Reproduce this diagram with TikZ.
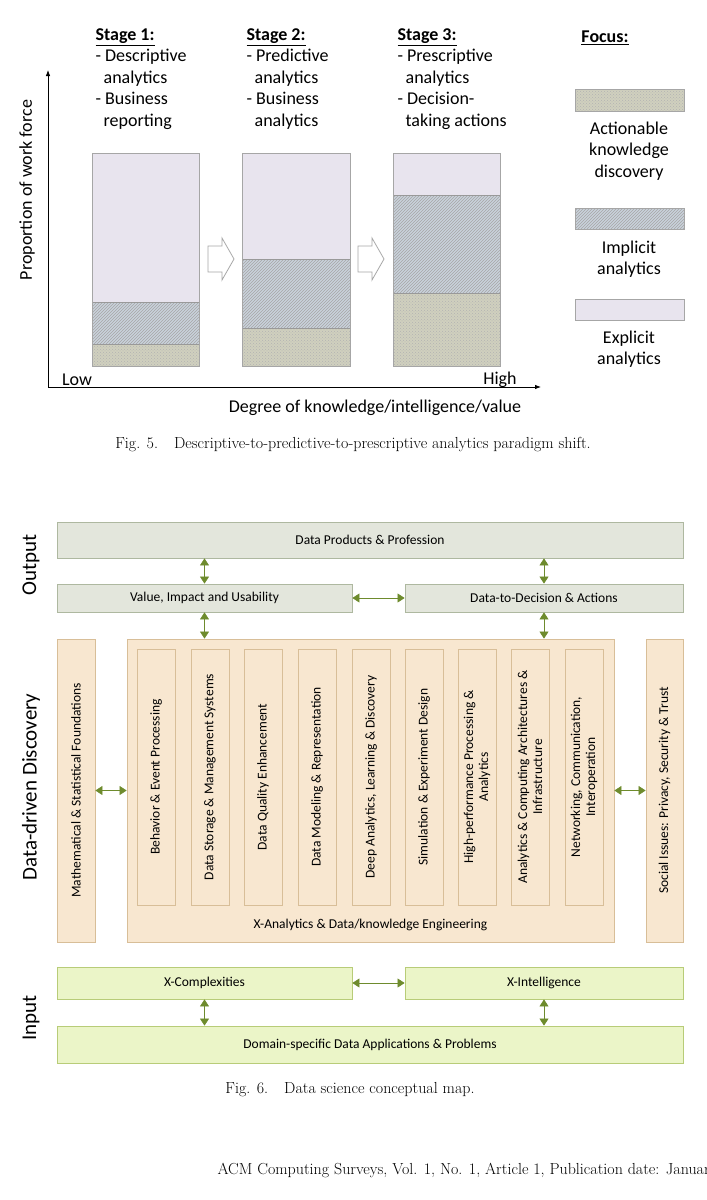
\documentclass[tikz,border=0pt]{standalone}
\usepackage{fontspec}
\newfontfamily\carl{Carlito}
\usetikzlibrary{patterns,arrows.meta}
\definecolor{expl}{HTML}{E8E4EE}
\definecolor{impl}{HTML}{C9D2DC}
\definecolor{act}{HTML}{D0D0BE}
\definecolor{obox}{HTML}{E3E6DC}
\definecolor{oline}{HTML}{AEB8A0}
\definecolor{mbox}{HTML}{F8E7D0}
\definecolor{mline}{HTML}{D8BE98}
\definecolor{ibox}{HTML}{EBF5C8}
\definecolor{iline}{HTML}{B8CC78}
\definecolor{garr}{HTML}{6E8B2D}
\begin{document}
\begin{tikzpicture}[x=1pt,y=-1pt,
  stg/.style={anchor=north west,align=left,font=\carl\fontsize{18}{21.5}\selectfont},
  leg/.style={align=center,font=\carl\fontsize{18}{21.5}\selectfont},
  bar/.style={draw=gray!70,line width=0.8pt},
  obx/.style={draw=oline,fill=obox,line width=0.8pt,font=\carl\fontsize{13.5}{15}\selectfont,inner sep=0},
  mbx/.style={draw=mline,fill=mbox,line width=0.8pt,font=\carl\fontsize{13.5}{15}\selectfont,inner sep=0},
  ibx/.style={draw=iline,fill=ibox,line width=0.8pt,font=\carl\fontsize{13.5}{15}\selectfont,inner sep=0},
  inb/.style={mbx,rotate=90,minimum width=256pt,minimum height=38pt,align=center},
  dar/.style={garr,line width=0.6pt,{Triangle[width=9pt,length=7pt]}-{Triangle[width=9pt,length=7pt]}},
  side/.style={font=\carl\fontsize{21}{24}\selectfont,rotate=90}]
\useasboundingbox (0,0) rectangle (707,1200);
% ---------- Fig 5 ----------
\node[stg] (s1) at (92,25) {\textbf{\underline{Stage 1:}}\\- Descriptive\\\ \ analytics\\- Business\\\ \ reporting};
\node[stg] (s2) at (243,25) {\textbf{\underline{Stage 2:}}\\- Predictive\\\ \ analytics\\- Business\\\ \ analytics};
\node[stg] (s3) at (394,25) {\textbf{\underline{Stage 3:}}\\- Prescriptive\\\ \ analytics\\- Decision-\\\ \ taking actions};
\node[leg,anchor=north] (foc) at (605,27) {\textbf{\underline{Focus:}}};
% axes
\coordinate (o) at (48,387);
\coordinate (ytop) at (48,70);
\coordinate (xend) at (541,387);
\draw[line width=0.8pt,-{Latex[length=6pt]}] (o) -- (ytop);
\draw[line width=0.8pt,-{Latex[length=6pt]}] (o) -- (xend);
\node[font=\carl\fontsize{18}{20}\selectfont,rotate=90] (yl) at (27,190) {Proportion of work force};
\node[font=\carl\fontsize{18}{20}\selectfont] (xl) at (375,408) {Degree of knowledge/intelligence/value};
\node[font=\carl\fontsize{18}{20}\selectfont] (lo) at (77,380) {Low};
\node[font=\carl\fontsize{18}{20}\selectfont] (hi) at (500,380) {High};
% bars
\foreach \xa/\xb/\yi/\ya in {92/199/302/344, 242/350/259/328, 393/500/195/293}{
  \fill[expl] (\xa,153) rectangle (\xb,\yi);
  \fill[impl] (\xa,\yi) rectangle (\xb,\ya);
  \fill[pattern=north east lines,pattern color=gray!70] (\xa,\yi) rectangle (\xb,\ya);
  \fill[act] (\xa,\ya) rectangle (\xb,366);
  \fill[pattern=crosshatch dots,pattern color=gray!60] (\xa,\ya) rectangle (\xb,366);
  \draw[gray!80,line width=0.8pt] (\xa,\yi) -- (\xb,\yi) (\xa,\ya) -- (\xb,\ya);
  \draw[bar] (\xa,153) rectangle (\xb,366);
}
% block arrows
\foreach \d in {0,150}{
  \draw[gray!70,line width=0.8pt,fill=white] (208+\d,246) -- (222+\d,246) -- (222+\d,238) -- (234+\d,259) -- (222+\d,280) -- (222+\d,272) -- (208+\d,272) -- cycle;
}
% legend
\fill[act] (575,89) rectangle (684,111);
\fill[pattern=crosshatch dots,pattern color=gray!60] (575,89) rectangle (684,111);
\draw[bar] (575,89) rectangle (684,111);
\fill[impl] (575,208) rectangle (684,229);
\fill[pattern=north east lines,pattern color=gray!70] (575,208) rectangle (684,229);
\draw[bar] (575,208) rectangle (684,229);
\draw[bar,fill=expl] (575,299) rectangle (684,320);
\node[leg] (l1) at (629,151) {Actionable\\knowledge\\discovery};
\node[leg] (l2) at (629,259) {Implicit\\analytics};
\node[leg] (l3) at (629,349) {Explicit\\analytics};
\node[font=\fontsize{16}{18}\selectfont] (c5) at (353,445) {Fig. 5.\quad Descriptive-to-predictive-to-prescriptive analytics paradigm shift.};
% ---------- Fig 6 ----------
\node[obx,minimum width=626pt,minimum height=36pt] (dp) at (370,540) {Data Products \& Profession};
\node[obx,minimum width=295pt,minimum height=28pt] (val) at (204.5,598) {Value, Impact and Usability};
\node[obx,minimum width=278pt,minimum height=28pt] (dd) at (544,598) {Data-to-Decision \& Actions};
\node[mbx,minimum width=303pt,minimum height=38pt,rotate=90] (math) at (76,790.5) {Mathematical \& Statistical Foundations};
\node[mbx,minimum width=303pt,minimum height=37pt,rotate=90] (soc) at (664.5,790.5) {Social Issues: Privacy, Security \& Trust};
\node[mbx,minimum width=487pt,minimum height=303pt] (xa) at (370.5,790.5) {};
\node[font=\carl\fontsize{13.5}{15}\selectfont] (xal) at (370.5,925) {X-Analytics \& Data/knowledge Engineering};
\node[inb] (b1) at (156,777) {Behavior \& Event Processing};
\node[inb] (b2) at (210,777) {Data Storage \& Management Systems};
\node[inb] (b3) at (263,777) {Data Quality Enhancement};
\node[inb] (b4) at (317,777) {Data Modeling \& Representation};
\node[inb] (b5) at (371,777) {Deep Analytics, Learning \& Discovery};
\node[inb] (b6) at (424,777) {Simulation \& Experiment Design};
\node[inb] (b7) at (477,777) {High-performance Processing \&\\Analytics};
\node[inb] (b8) at (530,777) {Analytics \& Computing Architectures \&\\Infrastructure};
\node[inb] (b9) at (584,777) {Networking, Communication,\\Interoperation};
\node[ibx,minimum width=295pt,minimum height=32pt] (xc) at (204.5,983) {X-Complexities};
\node[ibx,minimum width=278pt,minimum height=32pt] (xi) at (544,983) {X-Intelligence};
\node[ibx,minimum width=626pt,minimum height=37pt] (dom) at (370,1044.5) {Domain-specific Data Applications \& Problems};
\node[side] (out) at (31,565) {Output};
\node[side] (ddd) at (31,787) {Data-driven Discovery};
\node[side] (inp) at (31,1018) {Input};
% arrows
\draw[dar] (dp.south -| val.north) -- (val.north);
\draw[dar] (dp.south -| dd.north) -- (dd.north);
\draw[dar] (val.east) -- (dd.west);
\draw[dar] (val.south) -- (val.south |- xa.north);
\draw[dar] (dd.south) -- (dd.south |- xa.north);
\draw[dar] (math.south) -- (xa.west);
\draw[dar] (xa.east) -- (soc.north);
\draw[dar] (xc.east) -- (xi.west);
\draw[dar] (xc.south) -- (xc.south |- dom.north);
\draw[dar] (xi.south) -- (xi.south |- dom.north);
\node[font=\fontsize{16}{18}\selectfont] (c6) at (350,1090) {Fig. 6.\quad Data science conceptual map.};
\node[font=\fontsize{16}{18}\selectfont,anchor=west] (acm) at (214,1170) {ACM Computing Surveys, Vol. 1, No. 1, Article 1, Publication date: January 2};
\end{tikzpicture}
\end{document}
